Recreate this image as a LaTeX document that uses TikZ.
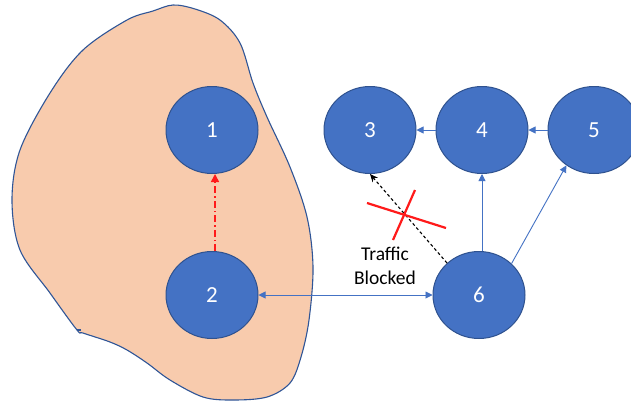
\documentclass[tikz,border=0pt]{standalone}
\usepackage{fontspec}
\setmainfont{Carlito}
\usetikzlibrary{arrows.meta,shapes.geometric}
\definecolor{nodefill}{HTML}{4472C4}
\definecolor{nodeline}{HTML}{2F528F}
\definecolor{blobfill}{HTML}{F8CBAD}
\definecolor{blobline}{HTML}{2F5597}
\definecolor{linkblue}{HTML}{4472C4}
\definecolor{alertred}{HTML}{FF1A1A}
\tikzset{
  netnode/.style={ellipse, draw=nodeline, line width=1pt, fill=nodefill,
    minimum width=92pt, minimum height=87pt, inner sep=0pt,
    text=white, font=\fontsize{23}{26}\selectfont},
  link/.style={draw=linkblue, line width=0.9pt, -{Triangle[length=7pt,width=7pt]}},
  blocked/.style={draw=black, line width=1.1pt, dash pattern=on 3pt off 2.5pt,
    -{Stealth[length=8pt,width=7pt]}},
  failover/.style={draw=alertred, line width=1.6pt,
    dash pattern=on 7pt off 3pt on 1.5pt off 3pt,
    -{Triangle[length=8pt,width=8pt]}},
  crossmark/.style={draw=alertred, line width=2.2pt},
  note/.style={align=center, font=\fontsize{19.5}{24}\selectfont, text=black}
}
\begin{document}
\begin{tikzpicture}[x=1pt,y=-1pt]
\useasboundingbox (0,0) rectangle (631,402);
\fill[white] (0,0) rectangle (631,402);

% region around nodes 1 and 2
\draw[blobline, line width=1.1pt, fill=blobfill]
  plot[smooth cycle, tension=0.55] coordinates {
    (173,5) (195,9) (220,20) (240,43) (253,83) (267,117) (290,167)
    (307,217) (313,267) (309,320) (301,357) (290,383) (267,397)
    (233,400) (203,397) (170,380) (147,363) (127,350) (110,342)
    (83,333) (77,330) (50,293) (20,250) (12,200) (20,150) (50,93)
    (83,50) (127,20) (153,11)};
\draw[blobline, line width=1.1pt] (77,330) -- (81,330);

% nodes
\node[netnode] (n1) at (212,130) {1};
\node[netnode] (n2) at (212,295) {2};
\node[netnode] (n3) at (370,130) {3};
\node[netnode] (n4) at (482,130) {4};
\node[netnode] (n5) at (594,130) {5};
\node[netnode] (n6) at (479,295) {6};

% links
\draw[link] (n4) -- (n3);
\draw[link] (n5) -- (n4);
\draw[link] (n6.north -| n4.south) -- (n4.south);
\draw[link] (n6.44) -- (n5.232);
\draw[link, {Triangle[length=7pt,width=7pt]}-{Triangle[length=7pt,width=7pt]}] (n2) -- (n6);

% blocked path 6 -> 3
\draw[blocked] (n6.135) -- (n3.south);
\draw[crossmark] (367,203) -- (446,228);
\draw[crossmark] (415,190) -- (393,240);
\node[note] (lbl) at (385,266) {Traffic\\Blocked};

% failover 2 -> 1
\draw[failover] ([xshift=3pt]n2.north) -- ([xshift=3pt]n1.south);
\end{tikzpicture}
\end{document}
